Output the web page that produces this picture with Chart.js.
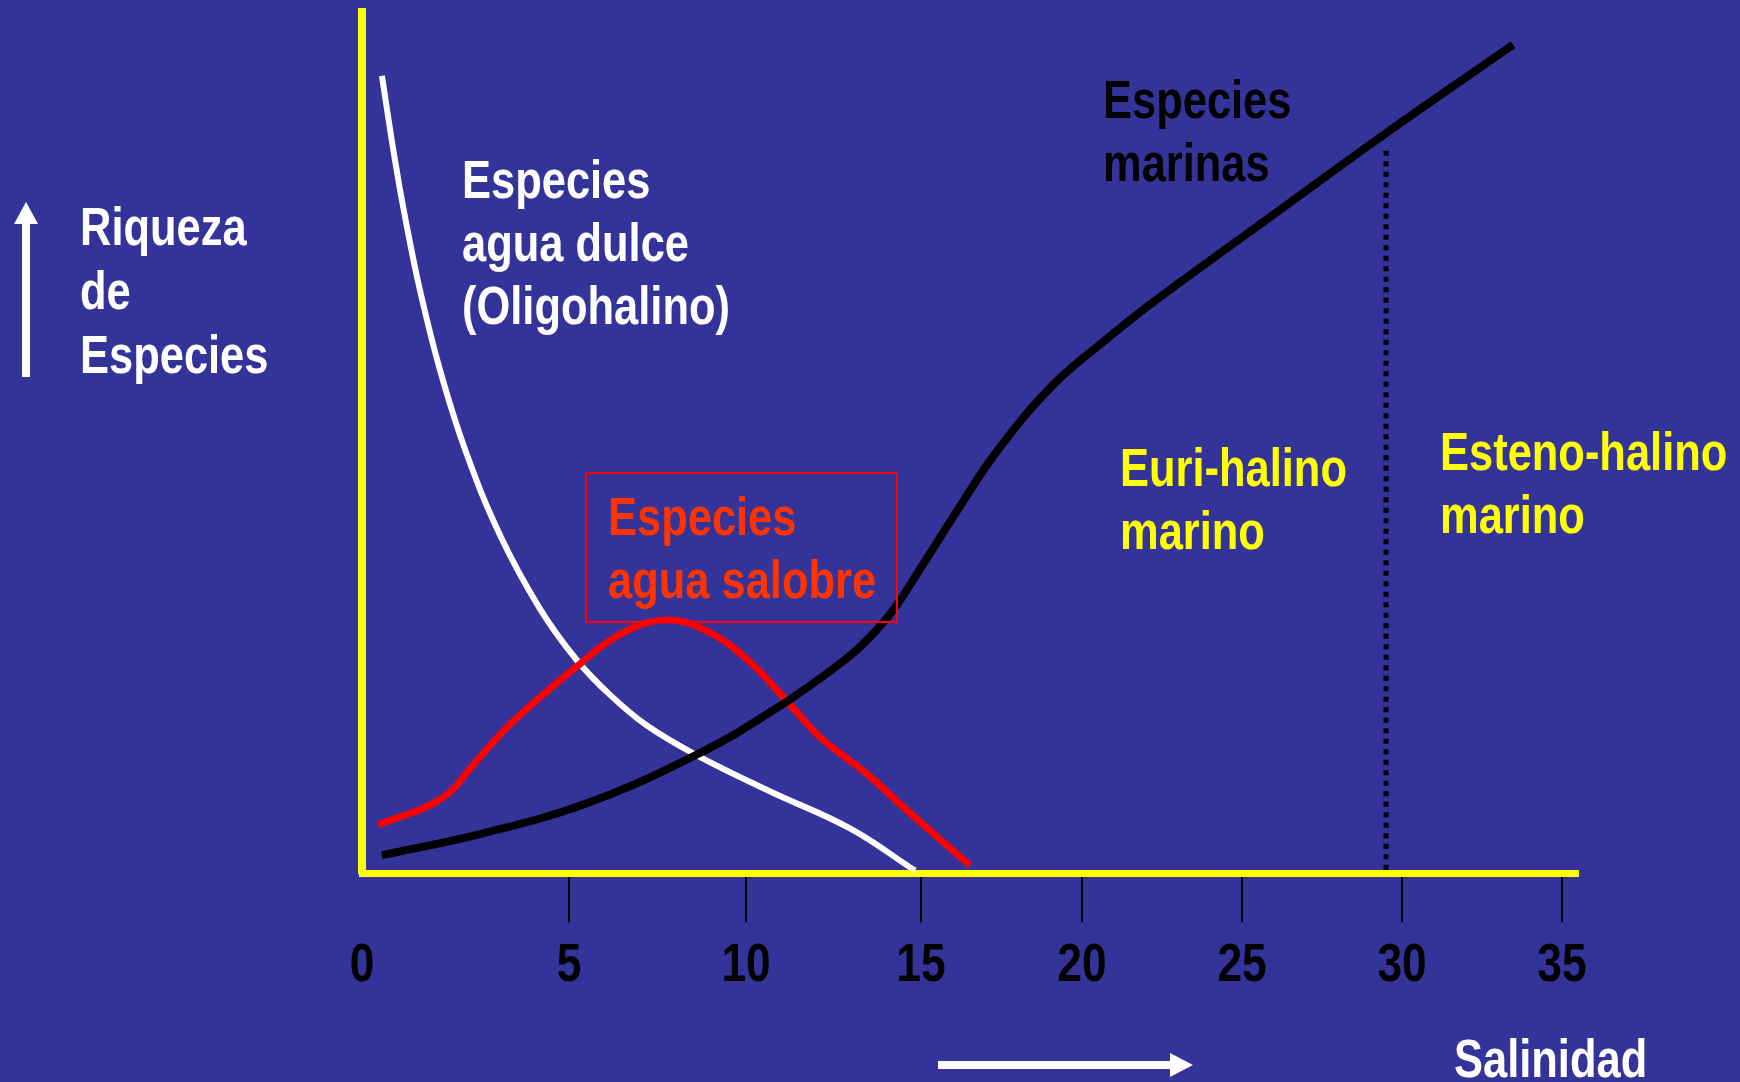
<!DOCTYPE html>
<html>
<head>
<meta charset="utf-8">
<title>Riqueza de especies y salinidad</title>
<script src="https://cdn.jsdelivr.net/npm/chart.js@4.4.1/dist/chart.umd.min.js"></script>
<style>
    html, body { margin: 0; padding: 0; background: #333399; }
    canvas { display: block; }
</style>
</head>
<body>
<canvas id="salinityChart" width="1740" height="1082"></canvas>
<script>
const salinityTicks = [0, 5, 10, 15, 20, 25, 30, 35];

// freshwater species (oligohaline)
const freshSalinity = [0.48, 0.80, 1.04, 1.40, 1.88, 2.49, 3.33, 4.30, 5.23, 6.16, 7.18, 8.56, 10.63, 12.97, 14.83];
const freshRichness = [92.6, 82.7, 76.2, 67.7, 58.5, 49.2, 39.3, 30.7, 24.7, 20.7, 17.2, 13.8, 9.6, 5.2, 0.3];

// brackish water species
const brackishSalinity = [0.39, 1.93, 2.71, 3.60, 5.31, 6.47, 7.74, 8.90, 10.06, 11.23, 12.14, 13.43, 14.60, 16.52];
const brackishRichness = [5.6, 8.7, 12.7, 17.4, 24.3, 27.8, 29.4, 28.1, 24.7, 19.7, 15.7, 11.6, 7.3, 0.9];

// marine species
const marineSalinity = [0.48, 2.90, 5.56, 8.67, 10.89, 12.77, 13.51, 14.23, 14.97, 16.21, 17.36, 19.10, 20.66, 22.22, 25.88, 29.41, 33.47];
const marineRichness = [2.1, 4.6, 8.2, 13.9, 19.2, 24.6, 27.3, 30.7, 35.3, 42.6, 49.0, 56.7, 61.7, 66.3, 76.2, 85.7, 96.2];

// euryhaline / stenohaline limit
const limitSalinity = [29.5, 29.5];
const limitRichness = [0.4, 84.5];

// Arial Narrow look: bold sans squeezed horizontally
const FONT = '"Liberation Sans", Arial, sans-serif';
const NARROW = 0.82;

function toPoints(xs, ys) {
    return xs.map((x, i) => ({ x: x, y: ys[i] }));
}

// the salinity axis is not evenly spaced: the first steps are drawn wider
const AXIS_VALUES = [0, 5, 10, 15, 20, 25, 30, 35, 35.5];
const AXIS_FRACTIONS = [0, 0.1702, 0.3158, 0.4597, 0.5921, 0.7237, 0.8553, 0.9868, 1];

function piecewise(v, from, to) {
    for (let i = 1; i < from.length; i++) {
        if (v <= from[i] || i === from.length - 1) {
            const t = (v - from[i - 1]) / (from[i] - from[i - 1]);
            return to[i - 1] + t * (to[i] - to[i - 1]);
        }
    }
}

class SalinityScale extends Chart.LinearScale {
    getPixelForValue(value) {
        return this.getPixelForDecimal(piecewise(value, AXIS_VALUES, AXIS_FRACTIONS));
    }
    getValueForPixel(pixel) {
        return piecewise(this.getDecimalForPixel(pixel), AXIS_FRACTIONS, AXIS_VALUES);
    }
    // same label items as the linear scale, only written condensed
    drawLabels(chartArea) {
        const ctx = this.ctx;
        for (const item of this.getLabelItems(chartArea)) {
            const opts = item.options;
            ctx.save();
            ctx.translate(opts.translation[0], opts.translation[1]);
            ctx.scale(NARROW, 1);
            ctx.font = item.font.string;
            ctx.fillStyle = opts.color;
            ctx.textAlign = opts.textAlign;
            ctx.textBaseline = opts.textBaseline;
            ctx.fillText(item.label, 0, item.textOffset);
            ctx.restore();
        }
    }
}
SalinityScale.id = 'salinity';
Chart.register(SalinityScale);

function text(ctx, lines, x, y, color, step) {
    ctx.fillStyle = color;
    lines.forEach((line, i) => {
        ctx.save();
        ctx.translate(x, y + i * step);
        ctx.scale(NARROW, 1);
        ctx.fillText(line, 0, 0);
        ctx.restore();
    });
}

const slideText = {
    id: 'slideText',
    afterDraw(chart) {
        const ctx = chart.ctx;
        ctx.save();
        ctx.font = 'bold 53px ' + FONT;
        ctx.textAlign = 'left';
        ctx.textBaseline = 'alphabetic';

        text(ctx, ['Riqueza', 'de', 'Especies'], 80, 245, '#ffffff', 64);
        text(ctx, ['Especies', 'agua dulce', '(Oligohalino)'], 462, 198, '#ffffff', 63);
        text(ctx, ['Especies', 'marinas'], 1103, 118, '#000000', 63);
        text(ctx, ['Especies', 'agua salobre'], 608, 535, '#ff3300', 63);
        text(ctx, ['Euri-halino', 'marino'], 1120, 486, '#ffff00', 63);
        text(ctx, ['Esteno-halino', 'marino'], 1440, 470, '#ffff00', 63);
        text(ctx, ['Salinidad'], 1454, 1077, '#ffffff', 0);

        // box round the brackish label
        ctx.strokeStyle = '#ff0000';
        ctx.lineWidth = 2;
        ctx.strokeRect(586, 473, 311, 149);

        // arrows for the two axis names
        ctx.fillStyle = '#ffffff';
        ctx.fillRect(22, 222, 8, 155);
        ctx.beginPath();
        ctx.moveTo(26, 202);
        ctx.lineTo(38, 224);
        ctx.lineTo(14, 224);
        ctx.closePath();
        ctx.fill();

        ctx.fillRect(938, 1061, 234, 8);
        ctx.beginPath();
        ctx.moveTo(1193, 1065);
        ctx.lineTo(1170, 1053);
        ctx.lineTo(1170, 1077);
        ctx.closePath();
        ctx.fill();
        ctx.restore();
    }
};

const curve = {
    fill: false,
    pointRadius: 0,
    tension: 0.4,
    borderCapStyle: 'butt'
};

const config = {
    type: 'line',
    data: {
        datasets: [
            { ...curve, label: 'Especies marinas', data: toPoints(marineSalinity, marineRichness), borderColor: '#000000', borderWidth: 8 },
            { ...curve, label: 'Especies agua salobre', data: toPoints(brackishSalinity, brackishRichness), borderColor: '#ff0000', borderWidth: 7 },
            { ...curve, label: 'Especies agua dulce', data: toPoints(freshSalinity, freshRichness), borderColor: '#ffffff', borderWidth: 6 },
            { label: 'Límite', data: toPoints(limitSalinity, limitRichness), borderColor: '#000000', borderWidth: 5, borderDash: [5, 5.5], pointRadius: 0, tension: 0, fill: false }
        ]
    },
    options: {
        responsive: false,
        animation: false,
        events: [],
        layout: { padding: { left: 362, right: 162, top: 12, bottom: 71 } },
        plugins: {
            legend: { display: false },
            tooltip: { enabled: false }
        },
        scales: {
            x: {
                type: 'salinity',
                min: 0,
                max: 35.5,
                afterBuildTicks: (scale) => {
                    scale.ticks = salinityTicks.map(v => ({ value: v }));
                },
                border: { display: true, color: '#ffff00', width: 7 },
                grid: {
                    drawOnChartArea: false,
                    drawTicks: true,
                    tickLength: 49,
                    lineWidth: 2,
                    color: (ctx) => (ctx.tick && ctx.tick.value === 0 ? 'rgba(0,0,0,0)' : '#000000')
                },
                ticks: {
                    autoSkip: false,
                    maxRotation: 0,
                    padding: 12,
                    color: '#000000',
                    font: { family: FONT, size: 54, weight: 'bold' }
                }
            },
            y: {
                min: 0,
                max: 100,
                border: { display: true, color: '#ffff00', width: 8 },
                grid: { display: false, drawTicks: false },
                ticks: { display: false }
            }
        }
    },
    plugins: [slideText]
};

new Chart(document.getElementById('salinityChart').getContext('2d'), config);
</script>
</body>
</html>
